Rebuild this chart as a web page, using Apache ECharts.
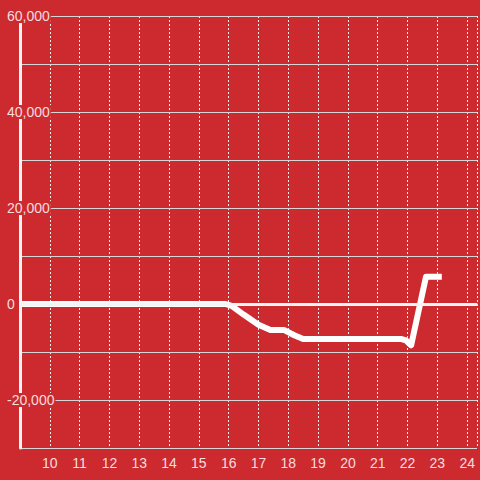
<!DOCTYPE html>
<html>
<head>
<meta charset="utf-8">
<style>
  html, body { margin: 0; padding: 0; background: #cc2a2f; }
  #chart { width: 480px; height: 480px; }
</style>
<script src="https://cdn.jsdelivr.net/npm/echarts@6/dist/echarts.min.js"></script>
</head>
<body>
<div id="chart"></div>
<script>
(function() {
  var bg = '#cc2a2f';
  var labelColor = 'rgba(255,255,255,0.85)';

  // time of day (hours) and cumulative value
  var hours = [9, 15.9, 16.1, 16.5, 17.0, 17.4, 17.85, 18.2, 18.5, 21.8, 21.95, 22.12, 22.62, 23.15];
  var values = [0, 0, -400, -2200, -4300, -5400, -5400, -6500, -7300, -7300, -7600, -8600, 5700, 5700];
  var yLabelEvery = 20000;

  var points = hours.map(function(h, i) { return [h, values[i]]; });

  var chart = echarts.init(document.getElementById('chart'), null, { renderer: 'svg' });
  chart.setOption({
    animation: false,
    backgroundColor: bg,
    grid: { left: 20, right: 0, top: 16, bottom: 32 },
    xAxis: {
      type: 'value',
      min: 9,
      max: 24.33,
      interval: 1,
      axisLine: { show: true, lineStyle: { color: '#d8d8d8', width: 1.5 } },
      axisTick: { show: false },
      axisLabel: {
        color: labelColor,
        fontSize: 14,
        fontFamily: 'Liberation Sans, Arial, sans-serif',
        margin: 8,
        formatter: function(v) { return (v % 1 === 0 && v >= 10) ? String(v) : ''; }
      },
      splitLine: { show: true, lineStyle: { color: '#f0f0f0', width: 1, type: [2, 2] } }
    },
    yAxis: {
      type: 'value',
      min: -30000,
      max: 60000,
      interval: 10000,
      axisLine: { show: true, lineStyle: { color: '#f4f4f4', width: 3 } },
      axisTick: { show: false },
      axisLabel: {
        color: labelColor,
        fontSize: 14,
        fontFamily: 'Liberation Sans, Arial, sans-serif',
        align: 'left',
        margin: 14,
        backgroundColor: bg,
        padding: [0, 1],
        formatter: function(v) {
          return v % yLabelEvery === 0 ? v.toLocaleString('en-US') : '';
        }
      },
      splitLine: { show: true, lineStyle: { color: '#d6d6d6', width: 1 } },
      z: 3
    },
    series: [
      {
        type: 'line',
        data: points,
        showSymbol: false,
        lineStyle: { color: '#ffffff', width: 6, join: 'round' },
        z: 2,
        markLine: {
          silent: true,
          symbol: 'none',
          label: { show: false },
          lineStyle: { color: '#f4f4f4', width: 3, type: 'solid' },
          data: [{ yAxis: 0 }]
        }
      }
    ]
  });
  window.addEventListener('resize', function() { chart.resize(); });
})();
</script>
</body>
</html>
